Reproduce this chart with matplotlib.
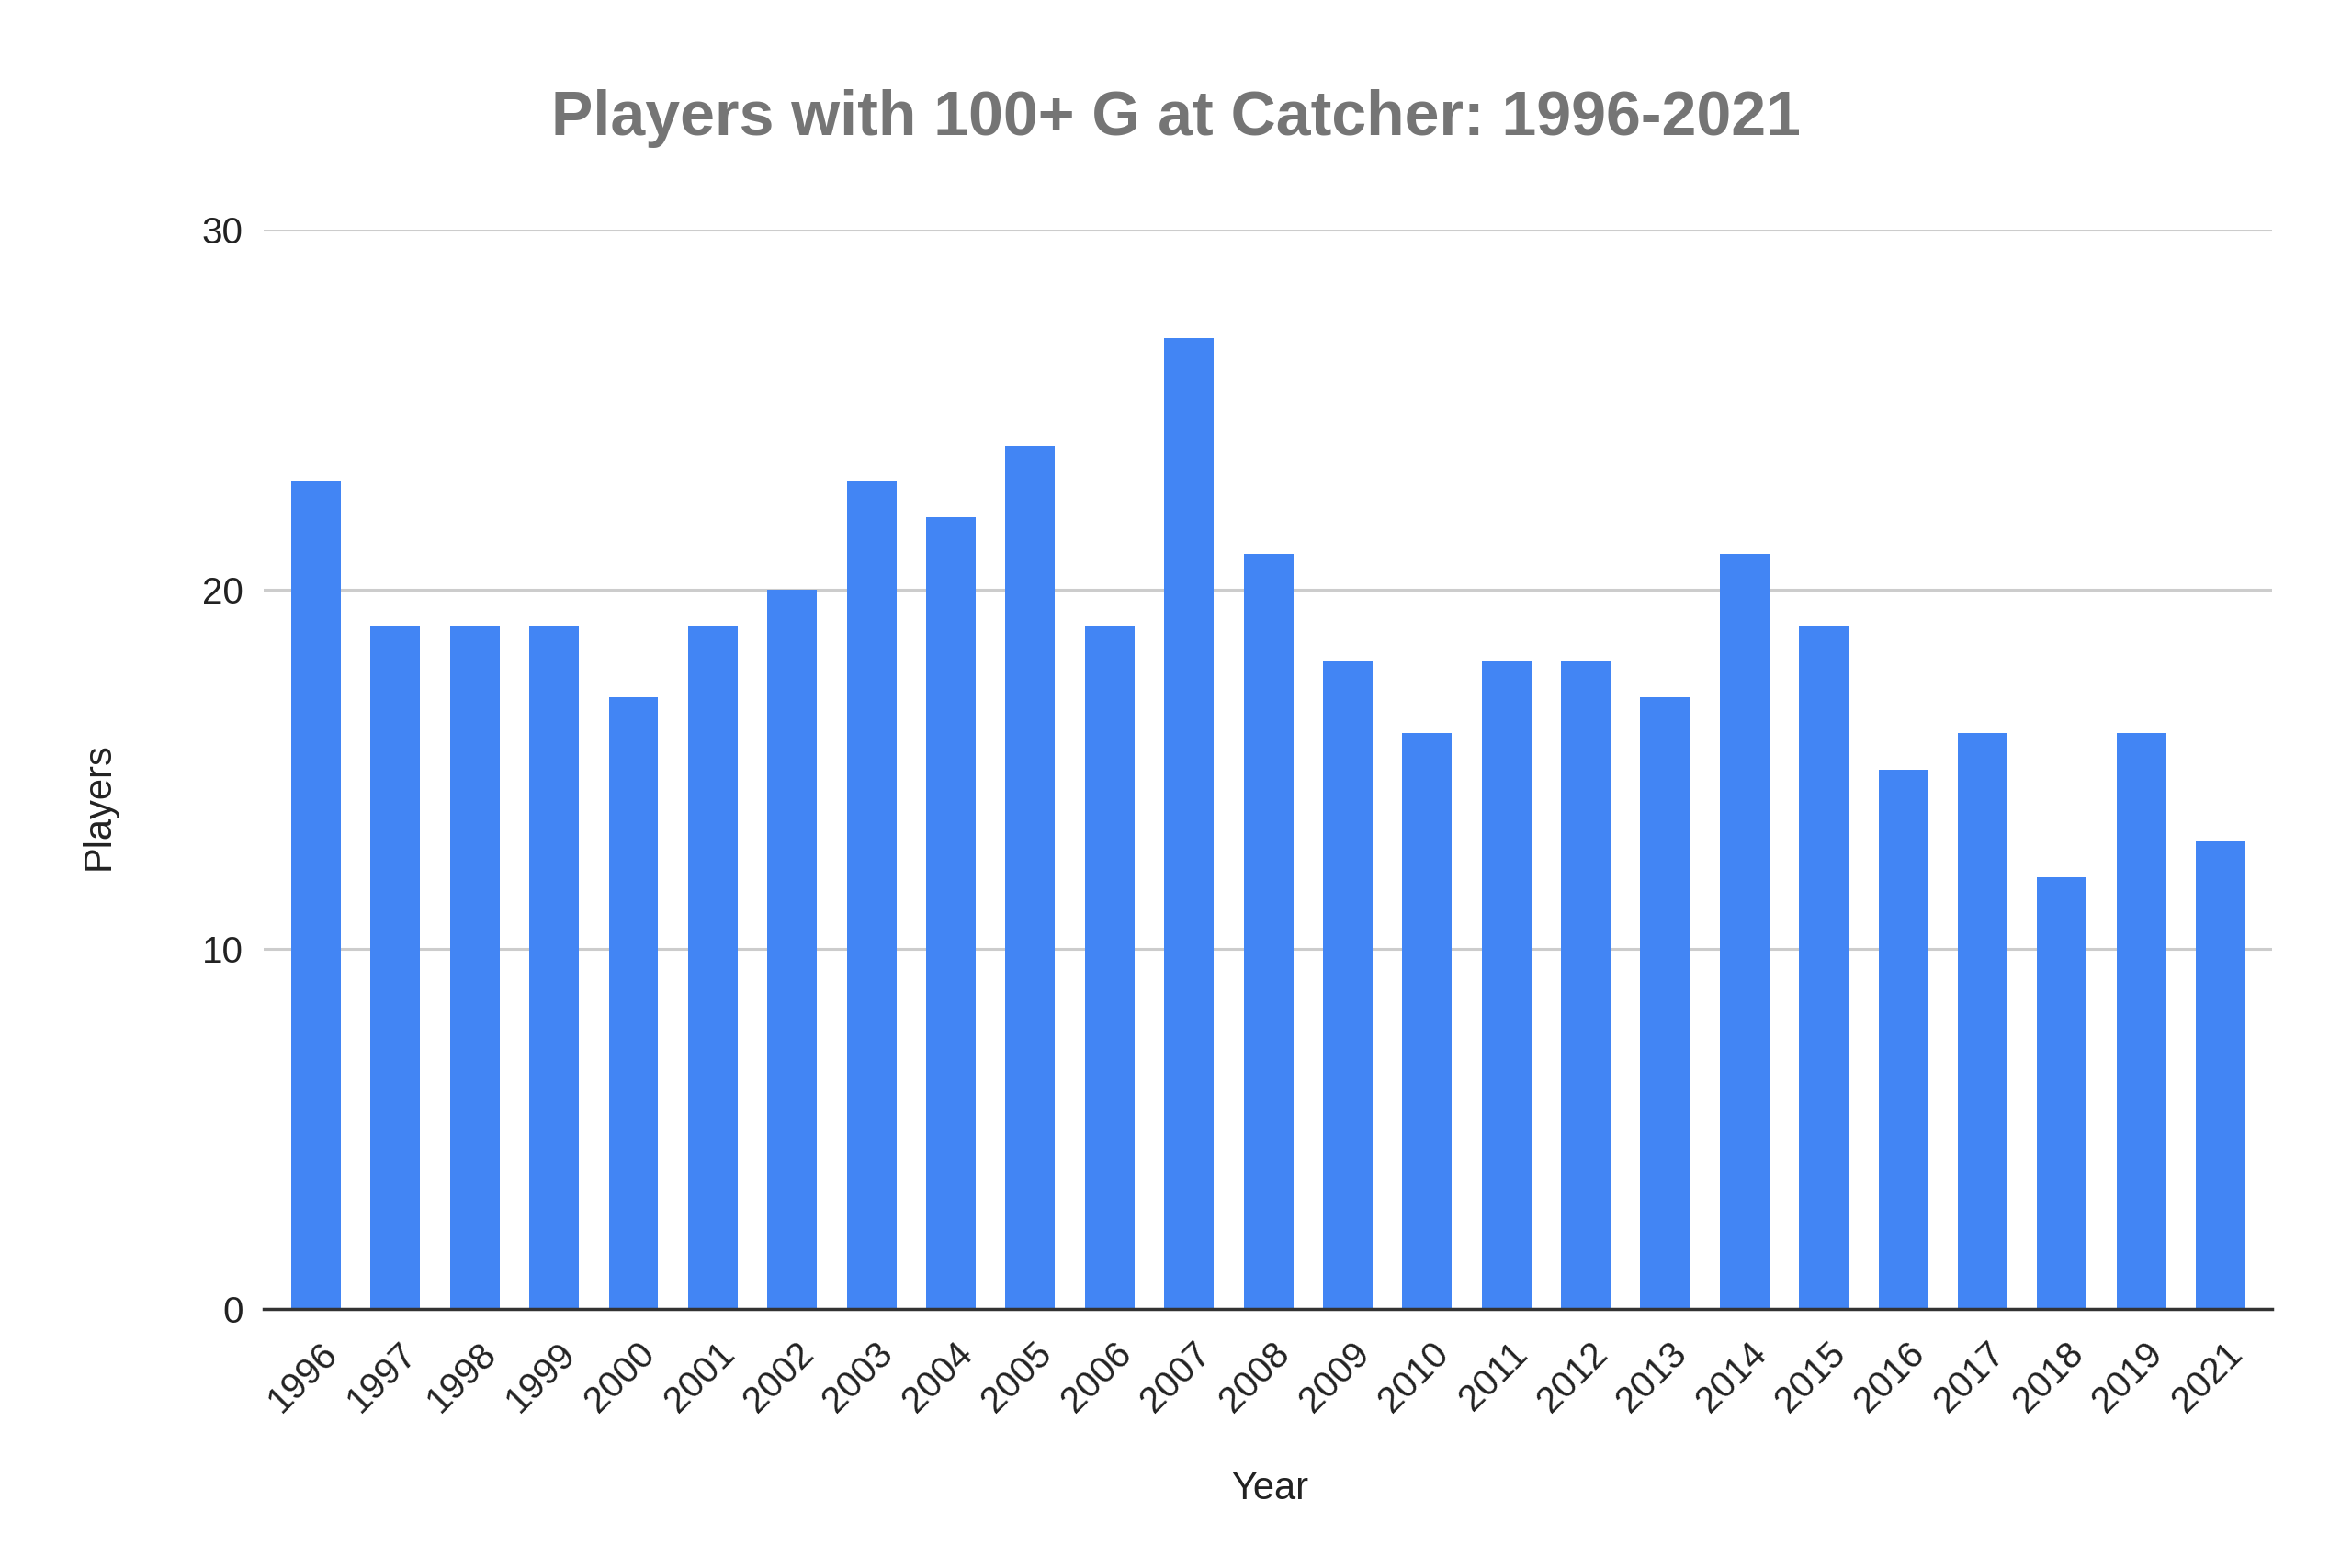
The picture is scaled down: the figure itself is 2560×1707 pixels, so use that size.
import matplotlib.pyplot as plt
import matplotlib.transforms as mtransforms

# Players with 100+ games at catcher per season
years = ['1996', '1997', '1998', '1999', '2000', '2001', '2002', '2003', '2004',
         '2005', '2006', '2007', '2008', '2009', '2010', '2011', '2012', '2013',
         '2014', '2015', '2016', '2017', '2018', '2019', '2021']
players = [23, 19, 19, 19, 17, 19, 20, 23, 22, 24, 19, 27, 21, 18, 16, 18, 18, 17,
           21, 19, 15, 16, 12, 16, 13]
y_ticks = [0, 10, 20, 30]

plt.rcParams['font.family'] = ['Liberation Sans', 'DejaVu Sans']

fig = plt.figure(figsize=(25.6, 17.07), dpi=100)
ax = fig.add_axes([0.1121, 0.1652, 0.854, 0.6883])

ax.bar(range(len(years)), players, width=0.625, color='#4285f4', zorder=3)

ax.set_xlim(-0.66, len(years) - 0.35)
ax.set_ylim(0, 30)
ax.set_yticks(y_ticks)
ax.set_xticks(range(len(years)))
ax.set_xticklabels(years, rotation=45, ha='right', va='top', rotation_mode='anchor')
ax.tick_params(axis='both', length=0, labelsize=29, colors='#222222')
ax.tick_params(axis='x', pad=21)
ax.tick_params(axis='y', pad=16)

# nudge the rotated year labels a little to the right, like the original
offset = mtransforms.ScaledTranslation(0.04, 0, fig.dpi_scale_trans)
for lbl in ax.get_xticklabels():
    lbl.set_transform(lbl.get_transform() + offset)

ax.grid(axis='y', color='#cccccc', linewidth=2.2, zorder=0)
for side in ['top', 'right', 'left']:
    ax.spines[side].set_visible(False)
ax.spines['bottom'].set_color('#333333')
ax.spines['bottom'].set_linewidth(2.5)
ax.spines['bottom'].set_zorder(4)

ax.set_xlabel('Year', fontsize=30, color='#222222', va='baseline')
ax.xaxis.set_label_coords(0.501, -0.176)
ax.set_ylabel('Players', fontsize=30, color='#222222', va='center')
ax.yaxis.set_label_coords(-0.082, 0.4655)

fig.text(0.5, 0.914, 'Players with 100+ G at Catcher: 1996-2021', ha='center',
         va='baseline', fontsize=49, fontweight='bold', color='#757575')

fig.savefig('out.png', dpi=100, facecolor='white')
